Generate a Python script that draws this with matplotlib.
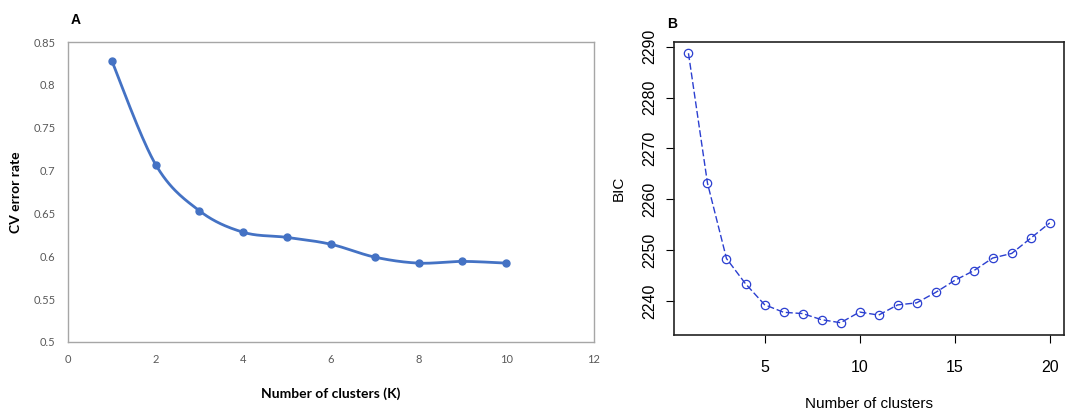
import numpy as np
import matplotlib
matplotlib.use("Agg")
from matplotlib import pyplot as plt

plt.rcParams["font.family"] = ["Liberation Sans", "DejaVu Sans"]

# Panel A: cross-validation error by K
k_a = [1, 2, 3, 4, 5, 6, 7, 8, 9, 10]
cv_error = [0.828, 0.707, 0.653, 0.628, 0.622, 0.614, 0.599, 0.592, 0.594, 0.592]
a_xticks = [0, 2, 4, 6, 8, 10, 12]
a_yticks = [0.5, 0.55, 0.6, 0.65, 0.7, 0.75, 0.8, 0.85]
a_ylabels = ["0.5", "0.55", "0.6", "0.65", "0.7", "0.75", "0.8", "0.85"]

# Panel B: BIC by number of clusters
k_b = list(range(1, 21))
bic = [2288.7, 2263.2, 2248.4, 2243.45, 2239.35, 2237.85, 2237.6, 2236.4, 2235.8, 2237.9,
       2237.3, 2239.3, 2239.7, 2241.75, 2244.1, 2246.0, 2248.5, 2249.4, 2252.4, 2255.4]
b_xticks = [5, 10, 15, 20]
b_yticks = [2240, 2250, 2260, 2270, 2280, 2290]


def smooth_line(x, y, n=30):
    # Catmull-Rom style curve through the points, like Excel's smoothed line
    x = np.asarray(x, float)
    y = np.asarray(y, float)
    px = np.concatenate([[x[0]], x, [x[-1]]])
    py = np.concatenate([[y[0]], y, [y[-1]]])
    xs, ys = [], []
    t = np.linspace(0, 1, n)
    for i in range(1, len(px) - 2):
        for p, out in ((px, xs), (py, ys)):
            p0, p1, p2, p3 = p[i - 1], p[i], p[i + 1], p[i + 2]
            out.extend(0.5 * (2 * p1 + (-p0 + p2) * t
                              + (2 * p0 - 5 * p1 + 4 * p2 - p3) * t ** 2
                              + (-p0 + 3 * p1 - 3 * p2 + p3) * t ** 3))
    return xs, ys


fig = plt.figure(figsize=(10.69, 4.12), dpi=100)
excel_font = ["Lato", "DejaVu Sans"]

# ---- Panel A ----
ax1 = fig.add_axes([0.0636, 0.170, 0.492, 0.728])
blue_a = "#4472C4"
sx, sy = smooth_line(k_a, cv_error)
ax1.plot(sx, sy, color=blue_a, linewidth=2)
ax1.plot(k_a, cv_error, "o", color=blue_a, markersize=5)
ax1.set_xlim(0, 12)
ax1.set_ylim(0.5, 0.85)
ax1.set_xticks(a_xticks)
ax1.set_yticks(a_yticks)
ax1.set_yticklabels(a_ylabels)
ax1.tick_params(length=0, labelsize=8, labelcolor="#595959", pad=9)
for lab in ax1.get_xticklabels() + ax1.get_yticklabels():
    lab.set_family(excel_font)
for sp in ax1.spines.values():
    sp.set_color("#a6a6a6")
    sp.set_linewidth(1)
ax1.set_xlabel("Number of clusters (K)", fontsize=10, fontweight="bold",
               family=excel_font, labelpad=16)
ax1.set_ylabel("CV error rate", fontsize=10, fontweight="bold",
               family=excel_font, labelpad=8)
fig.text(0.066, 0.951, "A", fontsize=10, fontweight="bold", va="center", ha="left")

# ---- Panel B ----
ax2 = fig.add_axes([0.6305, 0.187, 0.365, 0.711])
blue_b = "#2b3fd0"
ax2.plot(k_b, bic, color=blue_b, linewidth=1, linestyle=(0, (5, 2)),
         marker="o", markersize=6, markerfacecolor="none", markeredgecolor=blue_b,
         markeredgewidth=0.9)
ax2.set_xlim(0.24, 20.76)
ax2.set_ylim(2233.4, 2290.9)
ax2.set_xticks(b_xticks)
ax2.set_yticks(b_yticks)
for lab in ax2.get_yticklabels():
    lab.set_rotation(90)
    lab.set_va("center")
ax2.tick_params(labelsize=11.5, direction="out", length=6, width=0.8)
ax2.tick_params(axis="x", pad=12)
ax2.tick_params(axis="y", pad=6)
for sp in ax2.spines.values():
    sp.set_linewidth(1.2)
    sp.set_color("#222222")
ax2.set_xlabel("Number of clusters", fontsize=11, labelpad=16)
ax2.set_ylabel("BIC", fontsize=11, labelpad=12)
fig.text(0.624, 0.942, "B", fontsize=10, fontweight="bold", va="center", ha="left")

fig.savefig("out.png", dpi=100)
